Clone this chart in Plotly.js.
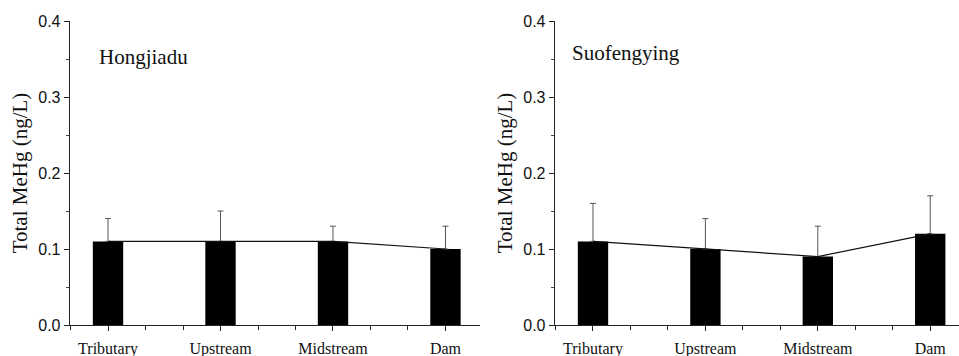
<!DOCTYPE html>
<html>
<head>
<meta charset="utf-8">
<script src="https://cdn.plot.ly/plotly-3.0.1.min.js"></script>
<style>html,body{margin:0;padding:0;background:#fff;}#chart{width:959px;height:356px;}</style>
</head>
<body>
<div id="chart"></div>
<script>
// Data
const sites = ["Tributary", "Upstream", "Midstream", "Dam"];
const hongjiaduMeHg = [0.11, 0.11, 0.11, 0.10];
const hongjiaduErr = [0.03, 0.04, 0.02, 0.03];
const suofengyingMeHg = [0.11, 0.10, 0.09, 0.12];
const suofengyingErr = [0.05, 0.04, 0.04, 0.05];
const panelNames = ["Hongjiadu", "Suofengying"];
const yTickVals = [0.0, 0.1, 0.2, 0.3, 0.4];
const yTickText = ["0.0", "0.1", "0.2", "0.3", "0.4"];

const pos = sites.map((s, i) => i);

function barTrace(vals, errs, xa, ya) {
  return {
    type: 'bar', x: pos, y: vals, xaxis: xa, yaxis: ya,
    width: 0.27,
    marker: {color: '#000', line: {width: 0}},
    error_y: {type: 'data', symmetric: false, array: errs, arrayminus: errs.map(() => 0),
              color: '#555', thickness: 1, width: 3},
    showlegend: false, hoverinfo: 'skip'
  };
}
function lineTrace(vals, xa, ya) {
  return {
    type: 'scatter', mode: 'lines', x: pos, y: vals, xaxis: xa, yaxis: ya,
    line: {color: '#111', width: 1.2}, showlegend: false, hoverinfo: 'skip'
  };
}

const data = [
  barTrace(hongjiaduMeHg, hongjiaduErr, 'x', 'y'),
  lineTrace(hongjiaduMeHg, 'x', 'y'),
  barTrace(suofengyingMeHg, suofengyingErr, 'x2', 'y2'),
  lineTrace(suofengyingMeHg, 'x2', 'y2')
];

const W = 959, H = 356;
const yDom = [(H - 325) / H, (H - 21) / H];

function xAxis(domain, range) {
  return {
    domain: domain, range: range,
    tickmode: 'array', tickvals: pos, ticktext: sites,
    ticks: 'outside', ticklen: 5, tickwidth: 1, tickcolor: '#222',
    minor: {ticks: 'outside', ticklen: 4, tickwidth: 1, tickcolor: '#222', dtick: 1/3, tick0: 0},
    showline: true, linecolor: '#222', linewidth: 1.3,
    showgrid: false, zeroline: false,
    ticklabelstandoff: 3,
    tickfont: {family: 'Liberation Serif, Times New Roman, serif', size: 16, color: '#111'}
  };
}
function yAxis(anchor) {
  return {
    domain: yDom, range: [0, 0.4], anchor: anchor,
    tickmode: 'array', tickvals: yTickVals, ticktext: yTickText,
    ticks: 'outside', ticklen: 5, tickwidth: 1, tickcolor: '#222',
    minor: {ticks: 'outside', ticklen: 3, tickwidth: 1, tickcolor: '#444', dtick: 0.05, tick0: 0},
    showline: true, linecolor: '#222', linewidth: 1.3,
    showgrid: false, zeroline: false,
    tickfont: {family: 'Liberation Sans, Arial, sans-serif', size: 16, color: '#111'},
    title: {text: 'Total MeHg (ng/L)', standoff: 5,
            font: {family: 'Liberation Serif, Times New Roman, serif', size: 21, color: '#111'}}
  };
}

const layout = {
  width: W, height: H,
  margin: {l: 0, r: 0, t: 0, b: 0},
  paper_bgcolor: '#fff', plot_bgcolor: '#fff',
  xaxis: Object.assign(xAxis([70 / W, 480 / W], [-0.338, 3.307]), {anchor: 'y'}),
  yaxis: yAxis('x'),
  xaxis2: Object.assign(xAxis([555 / W, 1], [-0.338, 3.256]), {anchor: 'y2'}),
  yaxis2: yAxis('x2'),
  annotations: [
    {text: panelNames[0], xref: 'paper', yref: 'paper', x: 97 / W, y: (H - 57) / H,
     xanchor: 'left', yanchor: 'middle', showarrow: false,
     font: {family: 'Liberation Serif, Times New Roman, serif', size: 21, color: '#111'}},
    {text: panelNames[1], xref: 'paper', yref: 'paper', x: 570 / W, y: (H - 53) / H,
     xanchor: 'left', yanchor: 'middle', showarrow: false,
     font: {family: 'Liberation Serif, Times New Roman, serif', size: 21, color: '#111'}}
  ]
};

Plotly.newPlot('chart', data, layout, {staticPlot: true, displayModeBar: false});
</script>
</body>
</html>
